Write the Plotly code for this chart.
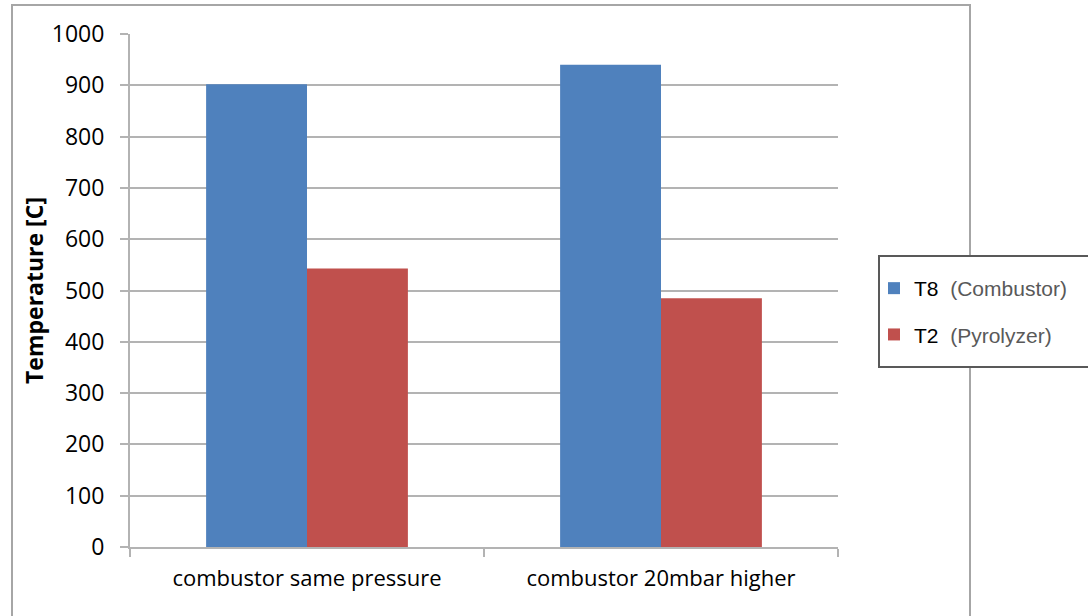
import plotly.graph_objects as go

categories = ["combustor same pressure", "combustor 20mbar higher"]
t8_values = [902, 940]
t2_values = [543, 485]
series_names = ["T8", "T2"]
series_notes = ["Combustor", "Pyrolyzer"]
y_ticks = [0, 100, 200, 300, 400, 500, 600, 700, 800, 900, 1000]

BLUE = "#4F81BD"
RED = "#C0504D"
GRID = "#B3B3B3"

fig = go.Figure()
for name, note, vals, col, grp in [
    (series_names[0], series_notes[0], t8_values, BLUE, "a"),
    (series_names[1], series_notes[1], t2_values, RED, "b"),
]:
    fig.add_trace(go.Bar(
        x=categories, y=vals,
        name=f"{name}&nbsp; <span style='color:#595959'>({note})</span>",
        marker=dict(color=col, line=dict(width=0)),
        legendgroup=grp,
    ))

W, H = 1088, 616
L, R, T, B = 130, 250, 34, 69
pw = W - L - R
ph = H - T - B

def px_x(x):
    return (x - L) / pw

def px_y(y):
    return (H - B - y) / ph

fig.update_layout(
    width=W, height=H,
    margin=dict(l=L, r=R, t=T, b=B, pad=0),
    paper_bgcolor="white", plot_bgcolor="white",
    barmode="group", bargap=0.43, bargroupgap=0,
    font=dict(family="Open Sans", color="black"),
    showlegend=True,
    legend=dict(
        x=px_x(874), y=px_y(268), xanchor="left", yanchor="top",
        borderwidth=0,
        font=dict(family="Liberation Sans", size=21, color="black"),
        tracegroupgap=16,
        itemwidth=30,
        bgcolor="rgba(0,0,0,0)",
    ),
    xaxis=dict(
        type="category",
        tickson="boundaries",
        ticks="outside", ticklen=8, tickcolor=GRID, tickwidth=2,
        showline=True, linecolor=GRID, linewidth=2,
        showgrid=False,
        ticklabelstandoff=11,
        tickfont=dict(family="Open Sans", size=22, color="black"),
        range=[-0.5, 1.5],
    ),
    yaxis=dict(
        range=[0, 1000],
        tickvals=y_ticks,
        ticks="outside", ticklen=8, tickcolor=GRID, tickwidth=2,
        showline=True, linecolor=GRID, linewidth=2,
        showgrid=True, gridcolor=GRID, gridwidth=2,
        zeroline=False,
        ticklabelstandoff=11,
        tickfont=dict(family="Open Sans", size=23, color="black"),
        title=dict(text="<b>Temperature [C]</b>", font=dict(family="Open Sans", size=23, color="black"), standoff=2),
    ),
)

fig.add_shape(
    type="rect", xref="paper", yref="paper",
    x0=px_x(12), x1=px_x(970), y0=px_y(625), y1=px_y(5),
    line=dict(color="#A6A6A6", width=2), fillcolor="rgba(0,0,0,0)", layer="below",
)
fig.add_shape(
    type="rect", xref="paper", yref="paper",
    x0=px_x(879), x1=px_x(1100), y0=px_y(367), y1=px_y(256),
    line=dict(color="#595959", width=2), fillcolor="white", layer="above",
)

fig.write_html("out.html")
